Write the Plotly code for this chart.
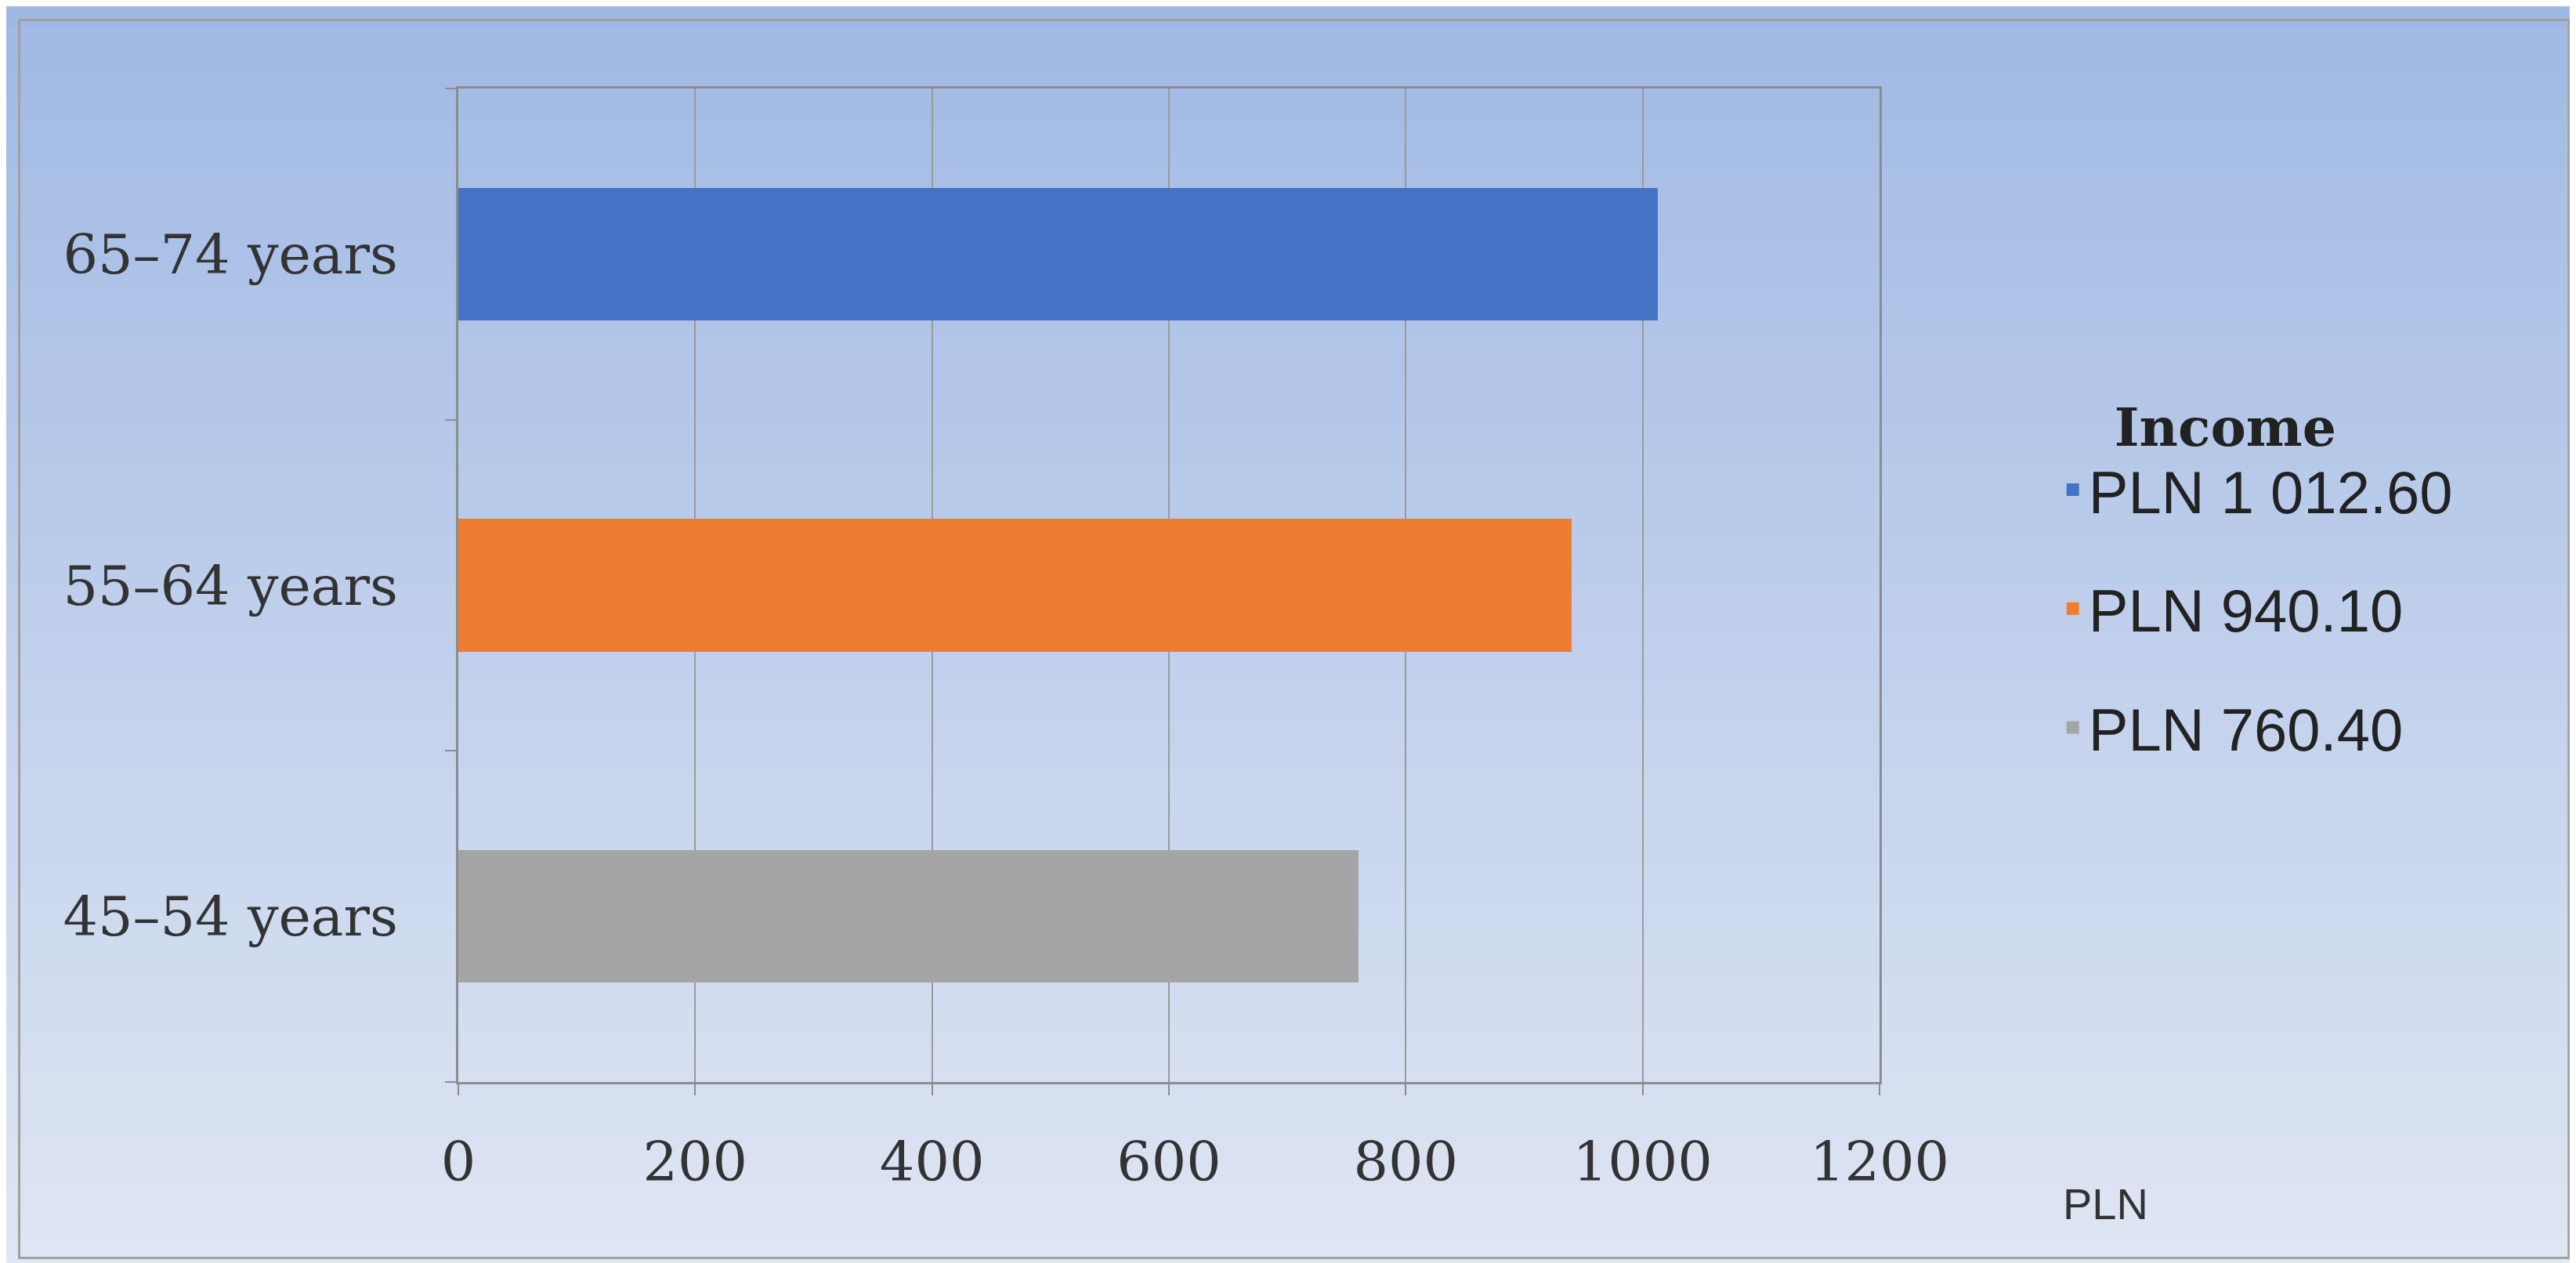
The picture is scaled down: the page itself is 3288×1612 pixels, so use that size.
import plotly.graph_objects as go

categories = ["45–54 years", "55–64 years", "65–74 years"]
values = [760.4, 940.1, 1012.6]
legend_names = ["PLN 760.40", "PLN 940.10", "PLN 1 012.60"]
colors = ["#a5a5a5", "#ed7d31", "#4472c4"]
x_ticks = [0, 200, 400, 600, 800, 1000, 1200]

fig = go.Figure()
for i in [2, 1, 0]:
    fig.add_trace(go.Bar(y=[i], x=[values[i]], orientation="h", showlegend=False,
                         marker=dict(color=colors[i], line=dict(width=0)), width=0.4))
for i in [2, 1, 0]:
    fig.add_trace(go.Scatter(x=[None], y=[None], mode="markers", name=legend_names[i],
                             legendgroup="g%d" % i,
                             marker=dict(symbol="square", size=40, color=colors[i])))

# background gradient
n = 60
top = (155, 181, 227)
bot = (224, 231, 244)
for k in range(n):
    t = k / (n - 1)
    c = tuple(int(top[j] + (bot[j] - top[j]) * t) for j in range(3))
    fig.add_shape(type="rect", xref="paper", yref="paper", layer="below",
                  x0=-1, x1=2, y0=1.2 - (k) * 1.4 / n, y1=1.2 - (k + 1) * 1.4 / n - 0.001,
                  fillcolor="rgb(%d,%d,%d)" % c, line=dict(width=0))

fig.update_layout(
    width=3288, height=1612,
    margin=dict(l=577, r=897, t=105, b=239),
    paper_bgcolor="#c0cfee", plot_bgcolor="white",
    barmode="overlay", bargap=0,
    showlegend=True,
    legend=dict(x=1.125, y=0.71, xanchor="left", yanchor="top", bgcolor="rgba(0,0,0,0)",
                title=dict(text="<b>   Income</b>", font=dict(family="DejaVu Serif", size=68, color="#222"), side="top"),
                font=dict(family="Liberation Sans", size=76, color="#222"),
                tracegroupgap=50, itemwidth=30),
    xaxis=dict(range=[0, 1200], tickvals=x_ticks, showgrid=True, gridcolor="#9a9a9a", gridwidth=2,
               showline=True, linecolor="#8c8c8c", linewidth=3, mirror=True,
               ticks="outside", ticklen=14, tickcolor="#8c8c8c", tickwidth=2, ticklabelstandoff=25,
               tickfont=dict(family="DejaVu Serif", size=70, color="#333"), zeroline=False),
    yaxis=dict(range=[-0.5, 2.5], tickvals=[0, 1, 2], ticktext=categories, ticks="",
               showgrid=False, showline=True, linecolor="#8c8c8c", linewidth=3, mirror=True,
               ticklabelstandoff=60,
               tickfont=dict(family="DejaVu Serif", size=70, color="#333"), zeroline=False,
               minor=dict(tick0=0.5, dtick=1, ticks="outside", ticklen=14, tickcolor="#8c8c8c",
                          tickwidth=2, showgrid=False)),
    annotations=[dict(text="PLN", xref="paper", yref="paper", x=1.19, y=-0.149, showarrow=False,
                      font=dict(family="Liberation Sans", size=56, color="#333"))],
)
fig.add_shape(type="rect", xref="paper", yref="paper", x0=-0.309, x1=1.485, y0=-0.177, y1=1.069,
              line=dict(color="#a0a0a0", width=3), fillcolor="rgba(0,0,0,0)")
fig.write_html("out.html")
